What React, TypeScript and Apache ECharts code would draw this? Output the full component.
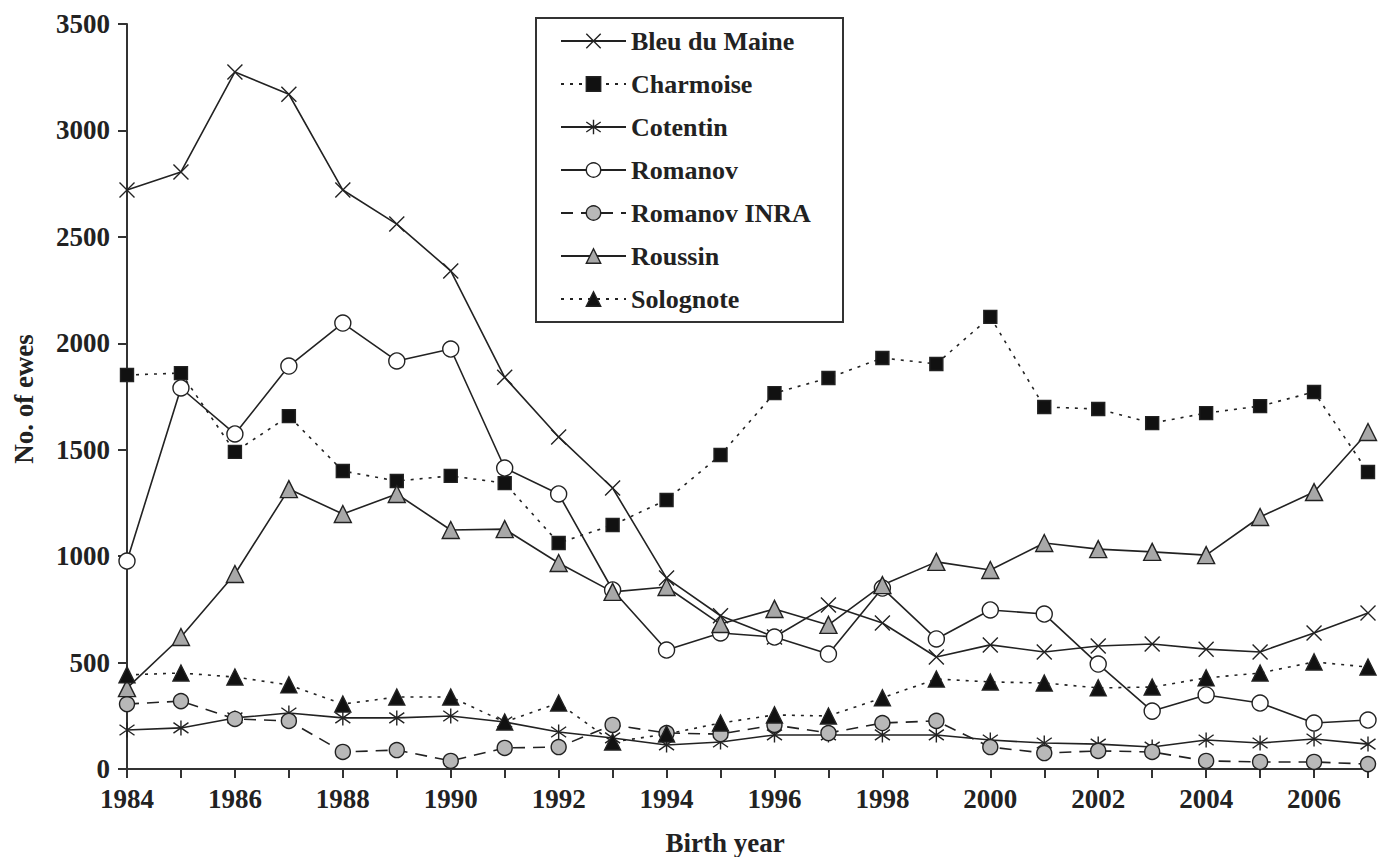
import React, { useEffect, useRef } from "react";
import * as echarts from "echarts";

const years = [1984, 1985, 1986, 1987, 1988, 1989, 1990, 1991, 1992, 1993, 1994, 1995, 1996, 1997, 1998, 1999, 2000, 2001, 2002, 2003, 2004, 2005, 2006, 2007];

const bleuDuMaine = [2720, 2805, 3275, 3170, 2720, 2560, 2340, 1840, 1560, 1320, 897, 720, 620, 770, 686, 526, 583, 550, 578, 587, 563, 550, 639, 733];
const charmoise = [1851, 1860, 1490, 1658, 1400, 1353, 1377, 1343, 1062, 1146, 1264, 1475, 1766, 1837, 1931, 1903, 2124, 1701, 1691, 1625, 1672, 1705, 1771, 1395];
const cotentin = [183, 193, 240, 263, 240, 240, 249, 221, 174, 146, 113, 127, 160, 160, 160, 160, 136, 122, 117, 103, 136, 122, 141, 117];
const romanov = [977, 1790, 1574, 1893, 2095, 1917, 1973, 1414, 1292, 841, 559, 639, 620, 540, 850, 611, 747, 728, 493, 272, 348, 310, 216, 230];
const romanovInra = [305, 319, 235, 226, 80, 89, 38, 99, 103, 207, 169, 164, 207, 169, 216, 226, 103, 75, 85, 80, 38, 33, 33, 23];
const roussin = [380, 620, 916, 1315, 1198, 1292, 1123, 1127, 968, 832, 855, 681, 752, 677, 864, 973, 935, 1062, 1033, 1020, 1005, 1184, 1301, 1583];
const solognote = [442, 451, 432, 395, 305, 338, 338, 221, 310, 127, 164, 216, 254, 249, 334, 423, 409, 404, 381, 385, 428, 451, 503, 479];

const seriesNames = ["Bleu du Maine", "Charmoise", "Cotentin", "Romanov", "Romanov INRA", "Roussin", "Solognote"];

const FONT = "'Liberation Serif', 'Times New Roman', serif";
const INK = "#222";

const X_SYMBOL = "path://M0,0L10,10M10,0L0,10";
const STAR_SYMBOL = "path://M1.5,1.5L8.5,8.5M8.5,1.5L1.5,8.5M5,0L5,10";

function pairs(vals: number[]) {
  return years.map((y, i) => [y, vals[i]]);
}

export default function App() {
  const ref = useRef<HTMLDivElement>(null);

  useEffect(() => {
    if (!ref.current) return;
    const chart = echarts.init(ref.current, undefined, { renderer: "svg" });

    const base = (name: string, vals: number[], symbol: string, size: number | number[], fill: string, lineType: any) => ({
      name,
      type: "line",
      data: pairs(vals),
      symbol,
      symbolSize: size,
      showSymbol: true,
      showAllSymbol: true,
      z: 2,
      lineStyle: { color: INK, width: 1.6, type: lineType },
      itemStyle: { color: fill, borderColor: INK, borderWidth: 1.4, opacity: 1 },
      emphasis: { disabled: true },
    });

    chart.setOption({
      animation: false,
      backgroundColor: "#fff",
      grid: { left: 127, right: 16, top: 24, bottom: 88, containLabel: false },
      xAxis: {
        type: "value",
        min: 1984,
        max: 2007,
        interval: 1,
        axisLine: { show: true, lineStyle: { color: "#333", width: 2 } },
        axisTick: { show: true, length: 9, inside: false, lineStyle: { color: "#333", width: 2 } },
        splitLine: { show: false },
        axisLabel: {
          margin: 16,
          color: INK,
          fontFamily: FONT,
          fontWeight: "bold",
          fontSize: 27,
          formatter: (v: number) => (v % 2 === 0 ? String(v) : ""),
        },
      },
      yAxis: {
        type: "value",
        min: 0,
        max: 3500,
        interval: 500,
        axisLine: { show: true, lineStyle: { color: "#333", width: 2 } },
        axisTick: { show: true, length: 9, lineStyle: { color: "#333", width: 2 } },
        splitLine: { show: false },
        axisLabel: {
          margin: 17,
          color: INK,
          fontFamily: FONT,
          fontWeight: "bold",
          fontSize: 27,
          formatter: (v: number) => String(v),
        },
      },
      legend: {
        orient: "vertical",
        left: 560,
        top: 28,
        padding: 0,
        itemWidth: 65,
        itemHeight: 18,
        itemGap: 17,
        data: seriesNames,
        selectedMode: false,
        itemStyle: { borderWidth: 1.4, borderColor: INK },
        textStyle: { color: INK, fontFamily: FONT, fontWeight: "bold", fontSize: 26 },
      },
      graphic: [
        {
          type: "rect",
          shape: { x: 536, y: 18, width: 307, height: 304 },
          style: { fill: "none", stroke: "#333", lineWidth: 2 },
          z: 0,
          silent: true,
        },
        {
          type: "text",
          x: 725,
          y: 843,
          style: {
            text: "Birth year",
            fontFamily: FONT,
            fontWeight: "bold",
            fontSize: 27,
            fill: INK,
            align: "center",
            verticalAlign: "middle",
          },
        },
        {
          type: "text",
          x: 24,
          y: 399,
          rotation: Math.PI / 2,
          style: {
            text: "No. of ewes",
            fontFamily: FONT,
            fontWeight: "bold",
            fontSize: 27,
            fill: INK,
            align: "center",
            verticalAlign: "middle",
          },
        },
      ],
      series: [
        base("Bleu du Maine", bleuDuMaine, X_SYMBOL, 15, INK, "solid"),
        base("Charmoise", charmoise, "rect", 13, "#111", [3, 6]),
        base("Cotentin", cotentin, STAR_SYMBOL, 15, INK, "solid"),
        base("Romanov", romanov, "circle", 16, "#fff", "solid"),
        base("Romanov INRA", romanovInra, "circle", 15, "#b8b8b8", [12, 8]),
        base("Roussin", roussin, "triangle", 17, "#a8a8a8", "solid"),
        base("Solognote", solognote, "triangle", 16, "#111", [3, 6]),
      ],
    });

    return () => chart.dispose();
  }, []);

  return <div ref={ref} style={{ width: 1384, height: 857, position: "absolute", left: 0, top: 0 }} />;
}
